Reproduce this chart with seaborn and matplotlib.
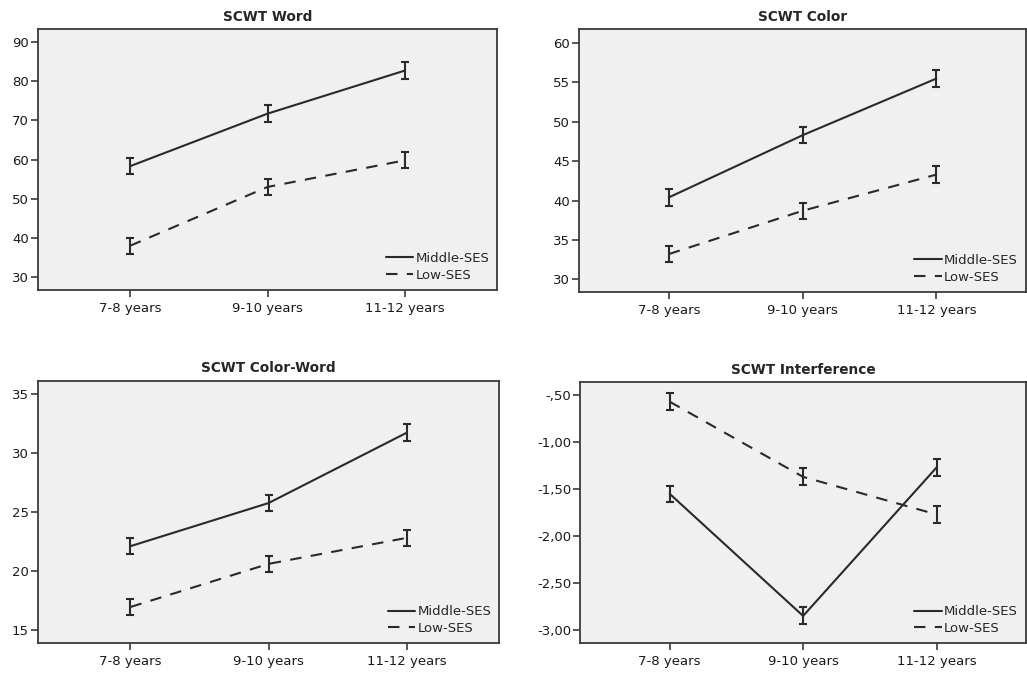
import pandas as pd
import seaborn as sns
import matplotlib.pyplot as plt
from matplotlib.ticker import FixedLocator, FuncFormatter

ages = ["7-8 years", "9-10 years", "11-12 years"]
groups = ["Middle-SES", "Low-SES"]

# SCWT Word
word_mid = [58.3, 71.7, 82.7]
word_mid_err = [2.1, 2.1, 2.1]
word_low = [38.0, 53.0, 59.8]
word_low_err = [2.1, 2.1, 2.0]

# SCWT Color
color_mid = [40.4, 48.3, 55.5]
color_mid_err = [1.05, 1.05, 1.05]
color_low = [33.2, 38.7, 43.3]
color_low_err = [1.05, 1.05, 1.1]

# SCWT Color-Word
cw_mid = [22.1, 25.75, 31.7]
cw_mid_err = [0.68, 0.7, 0.72]
cw_low = [16.95, 20.6, 22.8]
cw_low_err = [0.7, 0.7, 0.7]

# SCWT Interference
int_mid = [-1.55, -2.85, -1.27]
int_mid_err = [0.085, 0.09, 0.09]
int_low = [-0.57, -1.37, -1.77]
int_low_err = [0.09, 0.09, 0.09]

panels = [
    ("SCWT Word", word_mid, word_mid_err, word_low, word_low_err,
     [30, 40, 50, 60, 70, 80, 90], (26.76, 93.3)),
    ("SCWT Color", color_mid, color_mid_err, color_low, color_low_err,
     [30, 35, 40, 45, 50, 55, 60], (28.4, 61.8)),
    ("SCWT Color-Word", cw_mid, cw_mid_err, cw_low, cw_low_err,
     [15, 20, 25, 30, 35], (13.9, 36.1)),
    ("SCWT Interference", int_mid, int_mid_err, int_low, int_low_err,
     [-3.0, -2.5, -2.0, -1.5, -1.0, -0.5], (-3.138, -0.362)),
]

# axes boxes in figure fractions (left, bottom, width, height)
boxes = [
    (0.037, 0.570, 0.447, 0.387),
    (0.564, 0.567, 0.435, 0.390),
    (0.037, 0.046, 0.449, 0.389),
    (0.565, 0.046, 0.434, 0.387),
]

dark = "#2a2a2a"
sns.set_style("ticks", {"axes.facecolor": "#f0f0f0", "axes.edgecolor": "#444444"})
plt.rcParams["font.family"] = ["DejaVu Sans"]

fig = plt.figure(figsize=(10.27, 6.74), dpi=100)


def comma_fmt(v, pos):
    if float(v).is_integer() and abs(v) >= 5:
        return f"{int(v)}"
    s = f"{v:.2f}".replace(".", ",")
    return s.replace("-0,", "-,")


for (title, mid, mid_err, low, low_err, yt, ylim), box in zip(panels, boxes):
    ax = fig.add_axes(box)
    df = pd.DataFrame({
        "Age": ages * 2,
        "Score": mid + low,
        "Group": [groups[0]] * 3 + [groups[1]] * 3,
    })
    sns.lineplot(data=df, x="Age", y="Score", style="Group", sort=False,
                 dashes={"Middle-SES": "", "Low-SES": (5.5, 4.5)},
                 color=dark, linewidth=1.5, ax=ax)
    ax.errorbar(ages, mid, yerr=mid_err, fmt="none", ecolor=dark,
                elinewidth=1.5, capsize=3.2, capthick=1.5)
    ax.errorbar(ages, low, yerr=low_err, fmt="none", ecolor=dark,
                elinewidth=1.5, capsize=3.2, capthick=1.5)

    ax.set_xlim(-0.67, 2.67)
    ax.set_ylim(*ylim)
    ax.yaxis.set_major_locator(FixedLocator(yt))
    ax.yaxis.set_major_formatter(FuncFormatter(comma_fmt))
    ax.set_xlabel("")
    ax.set_ylabel("")
    ax.set_title(title, fontsize=9.8, fontweight="bold", pad=6)
    ax.tick_params(axis="both", labelsize=9.5, length=5, width=1.1,
                   color=dark, labelcolor="#1a1a1a")
    ax.tick_params(axis="y", pad=1.5)
    ax.tick_params(axis="x", pad=3.5)
    for sp in ax.spines.values():
        sp.set_linewidth(1.3)
        sp.set_color("#3a3a3a")

    handles, labels = ax.get_legend_handles_labels()
    ax.legend(handles, labels, loc="lower right", frameon=False,
              fontsize=9.5, handlelength=2.1, handletextpad=0.15,
              labelspacing=0.3, borderaxespad=0.4, borderpad=0.2)

fig.savefig("out.png", dpi=100)
